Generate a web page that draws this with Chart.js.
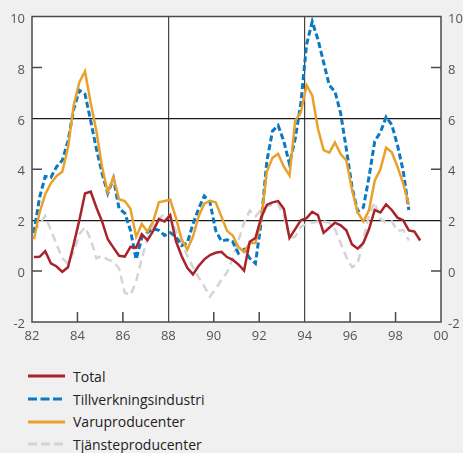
<!DOCTYPE html>
<html>
<head>
<meta charset="utf-8">
<script src="https://cdn.jsdelivr.net/npm/chart.js@4/dist/chart.umd.min.js"></script>
<style>
  body { margin: 0; background: #f0f0f0; font-family: 'Open Sans', sans-serif; }
  #wrap { position: relative; width: 463px; height: 453px; }
  #chart { display: block; }
  #legend { position: absolute; left: 28px; top: 365px; }
  .row { display: flex; align-items: center; height: 22.7px; font-size: 14px; color: #222; }
  .row svg { margin-right: 8px; }
</style>
</head>
<body>
<div id="wrap">
  <canvas id="chart" width="463" height="350"></canvas>
  <div id="legend"></div>
</div>
<script>
// quarterly data, first value = 1982 Q1
const startYear = 82;
const seriesNames = ['Total', 'Tillverkningsindustri', 'Varuproducenter', 'Tjänsteproducenter'];

const total = [0.55, 0.56, 0.78, 0.3, 0.18, -0.03, 0.15, 1.05, 2.0, 3.05,
  3.12, 2.5, 1.95, 1.25, 0.92, 0.6, 0.57, 0.95, 0.92, 1.45,
  1.21, 1.58, 2.04, 1.95, 2.2, 1.18, 0.59, 0.13, -0.13, 0.2,
  0.46, 0.63, 0.72, 0.76, 0.55, 0.44, 0.26, 0.02, 1.15, 1.3,
  2.1, 2.6, 2.7, 2.75, 2.45, 1.3, 1.65, 2.0, 2.08, 2.33,
  2.2, 1.5, 1.7, 1.9, 1.8, 1.6, 1.05, 0.88, 1.1, 1.65,
  2.4, 2.3, 2.62, 2.4, 2.1, 2.0, 1.6, 1.55, 1.2];

const tillverkning = [1.5, 2.9, 3.72, 3.68, 4.1, 4.35, 5.1, 6.35, 7.1, 6.95,
  5.9, 4.8, 3.85, 3.05, 3.65, 2.45, 2.28, 1.6, 0.46, 1.31,
  1.52, 1.66, 1.6, 1.4, 1.51, 1.35, 1.0, 1.1, 1.85, 2.45,
  2.95, 2.7, 1.6, 1.18, 1.23, 1.15, 0.7, 0.85, 0.5, 0.3,
  1.9, 4.3, 5.5, 5.72, 5.1, 4.2, 5.2, 6.6, 8.9, 9.8,
  9.1, 8.2, 7.3, 7.05, 6.2, 4.8, 3.3, 2.35, 2.5, 3.7,
  5.1, 5.45, 6.05, 5.75, 4.95, 3.95, 2.4];

const varu = [1.25, 2.3, 3.02, 3.45, 3.74, 3.9, 4.85, 6.5, 7.42, 7.85,
  6.6, 5.5, 4.1, 3.1, 3.68, 2.82, 2.75, 2.45, 1.35, 1.85,
  1.55, 1.95, 2.7, 2.75, 2.8, 2.1, 1.25, 0.85, 1.35, 2.15,
  2.65, 2.76, 2.7, 2.15, 1.58, 1.4, 0.95, 0.75, 1.1, 1.1,
  2.0, 3.9, 4.45, 4.6, 4.1, 3.75, 5.9, 6.25, 7.3, 6.9,
  5.6, 4.75, 4.65, 5.05, 4.6, 4.35, 3.2, 2.3, 1.95, 2.4,
  3.55, 4.0, 4.85, 4.67, 4.1, 3.45, 2.6];

const tjanste = [1.55, 1.85, 2.17, 1.6, 1.05, 0.5, 0.3, 0.75, 1.45, 1.72,
  1.25, 0.5, 0.6, 0.45, 0.38, 0.1, -0.85, -0.95, -0.4, 0.5,
  1.3, 1.8, 2.05, 2.25, 2.1, 1.6, 1.1, 0.6, 0.15, -0.25,
  -0.6, -1.0, -0.7, -0.35, -0.05, 0.5, 1.2, 1.9, 2.37, 2.15,
  2.4, 2.55, 2.6, 2.63, 2.15, 1.3, 1.35, 1.75, 1.85, 1.9,
  1.95, 1.95, 1.9, 1.65, 1.1, 0.55, 0.15, 0.3, 1.25, 2.2,
  2.7, 2.05, 1.9, 1.95, 1.58, 1.62, 1.2];

const majorX = [88, 94];
const minorX = [84, 86, 90, 92, 96, 98];
const majorY = [2, 6];
const minorY = [0, 4, 8];

const colors = ['#a8232b', '#0a78c2', '#eaa12b', '#d4d4d4'];
const dashes = [[], [6, 3], [], [8, 5]];

// middle month of each quarter
const toPoints = arr => arr.map((v, i) => ({ x: startYear + i / 4 + 1 / 12, y: v }));

const frame = {
  id: 'frame',
  beforeDraw(chart) {
    const { ctx, chartArea: a } = chart;
    ctx.save();
    ctx.fillStyle = '#fff';
    ctx.fillRect(a.left, a.top, a.right - a.left, a.bottom - a.top);
    ctx.restore();
  },
  beforeDatasetsDraw(chart) {
    const { ctx, chartArea: a, scales } = chart;
    ctx.save();
    ctx.strokeStyle = '#4a4a4a';
    ctx.lineWidth = 1.5;
    ctx.strokeRect(a.left, a.top, a.right - a.left, a.bottom - a.top);
    ctx.beginPath();
    minorY.forEach(v => {
      const y = scales.y.getPixelForValue(v);
      ctx.moveTo(a.left, y); ctx.lineTo(a.left + 10, y);
      ctx.moveTo(a.right, y); ctx.lineTo(a.right - 10, y);
    });
    minorX.forEach(v => {
      const x = scales.x.getPixelForValue(v);
      ctx.moveTo(x, a.bottom); ctx.lineTo(x, a.bottom - 10);
    });
    ctx.stroke();
    ctx.restore();
  }
};

const tickFont = { family: 'Open Sans', size: 13 };

new Chart(document.getElementById('chart'), {
  type: 'line',
  data: {
    datasets: [total, tillverkning, varu, tjanste].map((arr, i) => ({
      label: seriesNames[i],
      data: toPoints(arr),
      borderColor: colors[i],
      borderDash: dashes[i],
      borderWidth: i === 1 ? 3 : 2.5,
      pointRadius: 0,
      tension: 0,
      fill: false,
      order: [0, 2, 1, 3][i]
    }))
  },
  options: {
    responsive: false,
    animation: false,
    layout: { padding: { top: 16.5, left: 0, right: 0, bottom: 0 } },
    plugins: { legend: { display: false }, tooltip: { enabled: false } },
    scales: {
      x: {
        type: 'linear', min: 82, max: 100,
        ticks: {
          stepSize: 2, autoSkip: false, maxRotation: 0, padding: 6,
          color: '#555', font: tickFont,
          callback: v => String(v % 100).padStart(2, '0')
        },
        grid: {
          drawTicks: false, lineWidth: 1.2,
          color: c => majorX.includes(c.tick && c.tick.value) ? '#444' : 'transparent'
        },
        border: { display: false },
        afterFit: s => { s.height = 28; }
      },
      y: {
        position: 'left', min: -2, max: 10,
        ticks: { stepSize: 2, padding: 7, labelOffset: 2.5, color: '#555', font: tickFont },
        grid: {
          drawTicks: false, lineWidth: 1.2,
          color: c => majorY.includes(c.tick && c.tick.value) ? '#1a1a1a' : 'transparent'
        },
        border: { display: false },
        afterFit: s => { s.width = 32; }
      },
      y2: {
        position: 'right', min: -2, max: 10,
        ticks: { stepSize: 2, padding: 7, labelOffset: 2.5, color: '#555', font: tickFont },
        grid: { display: false, drawTicks: false },
        border: { display: false },
        afterFit: s => { s.width = 22; }
      }
    }
  },
  plugins: [frame]
});

// legend as a vertical list under the chart
const legend = document.getElementById('legend');
seriesNames.forEach((name, i) => {
  const row = document.createElement('div');
  row.className = 'row';
  const dash = i === 1 ? '9 3.5' : (i === 3 ? '9 4' : 'none');
  row.innerHTML = '<svg width="37" height="4"><line x1="0" y1="2" x2="37" y2="2" stroke="' + colors[i] +
    '" stroke-width="3" stroke-dasharray="' + dash + '"/></svg><span>' + name + '</span>';
  legend.appendChild(row);
});
</script>
</body>
</html>
